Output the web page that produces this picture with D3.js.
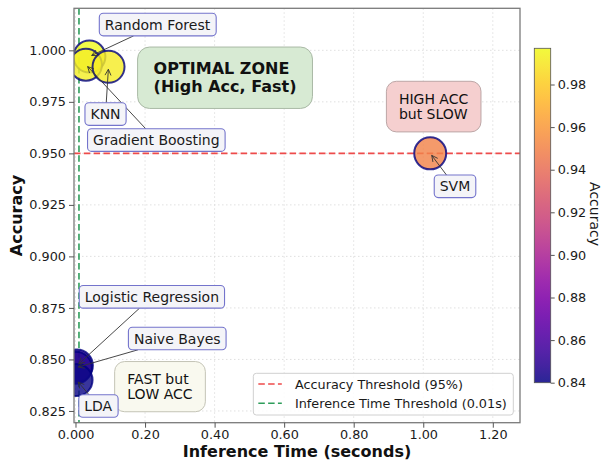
<!DOCTYPE html>
<html>
<head>
<meta charset="utf-8">
<script src="https://cdn.jsdelivr.net/npm/d3@7"></script>
<style>
  body { margin: 0; background: #fff; }
  svg { display: block; }
  text { font-family: "DejaVu Sans", "Liberation Sans", sans-serif; }
</style>
</head>
<body>
<svg id="chart" width="603" height="461"></svg>
<script>
// ---- data ----
const models = ["Logistic Regression", "Naive Bayes", "LDA", "Random Forest", "Gradient Boosting", "KNN", "SVM"];
const inferenceTime = [0.004, 0.001, 0.003, 0.040, 0.030, 0.095, 1.020];
const accuracy = [0.847, 0.846, 0.840, 0.997, 0.993, 0.992, 0.950];

const xTickValues = [0, 0.2, 0.4, 0.6, 0.8, 1.0, 1.2];
const xTickLabels = ["0.000", "0.20", "0.40", "0.60", "0.80", "1.00", "1.20"];
const yTickValues = [0.825, 0.85, 0.875, 0.9, 0.925, 0.95, 0.975, 1.0];
const yTickLabels = ["0.825", "0.850", "0.875", "0.900", "0.925", "0.950", "0.975", "1.000"];
const colorbarTicks = [0.84, 0.86, 0.88, 0.90, 0.92, 0.94, 0.96, 0.98];
const colorbarTickLabels = ["0.84", "0.86", "0.88", "0.90", "0.92", "0.94", "0.96", "0.98"];

const accuracyThreshold = 0.95;
const timeThreshold = 0.01;
const legendLabels = ["Accuracy Threshold (95%)", "Inference Time Threshold (0.01s)"];
const zoneTexts = [["OPTIMAL ZONE", "(High Acc, Fast)"], ["HIGH ACC", "but SLOW"], ["FAST but", "LOW ACC"]];
const zoneTime = [0.430, 1.030, 0.243];
const zoneAcc = [0.9867, 0.9727, 0.8368];

// ---- layout ----
const plot = { left: 74, right: 520, top: 8.3, bottom: 422.7 };
const cbar = { x: 534.3, y: 48.3, w: 16.4, h: 334.4 };
// label box centre offsets (px) from each point
const labelOffsets = {
  "Logistic Regression": [75, -68.6],
  "Naive Bayes": [101.4, -29],
  "LDA": [21.7, 26.1],
  "Random Forest": [68.1, -31.8],
  "Gradient Boosting": [70.4, 75.5],
  "KNN": [-3, 47.4],
  "SVM": [24.8, 33.1]
};
const zoneStyles = [
  { fill: "#d7ead3", stroke: "#a9b9a5", size: 16, weight: "bold", px: 16, py: 12, r: 12, lh: 18.4 },
  { fill: "#f5cfcf", stroke: "#bca6a6", size: 14, weight: "normal", px: 12.5, py: 9.5, r: 10, lh: 15.6 },
  { fill: "#f9f9ef", stroke: "#c4c4b6", size: 14, weight: "normal", px: 12.5, py: 9.5, r: 10, lh: 15.2 }
];
const dash = "6.5,3.3";

const svg = d3.select("#chart");

const x = d3.scaleLinear().domain([-0.0043, 1.2782]).range([plot.left, plot.right]);
const y = d3.scaleLinear().domain([0.8193, 1.0204]).range([plot.bottom, plot.top]);
const accExtent = d3.extent(accuracy);
const color = d3.scaleSequential(d3.interpolatePlasma).domain(accExtent);

svg.append("defs").append("clipPath").attr("id", "plot-clip")
  .append("rect")
  .attr("x", plot.left).attr("y", plot.top)
  .attr("width", plot.right - plot.left).attr("height", plot.bottom - plot.top);

// ---- grid ----
const grid = svg.append("g").attr("stroke", "#d8d8d8").attr("stroke-width", 0.8)
  .attr("stroke-dasharray", "1.5,2.5");
grid.selectAll(".gx").data(xTickValues).join("line")
  .attr("x1", d => x(d)).attr("x2", d => x(d))
  .attr("y1", plot.top).attr("y2", plot.bottom);
grid.selectAll(".gy").data(yTickValues).join("line")
  .attr("x1", plot.left).attr("x2", plot.right)
  .attr("y1", d => y(d)).attr("y2", d => y(d));

// ---- threshold lines ----
const thr = svg.append("g").attr("clip-path", "url(#plot-clip)");
thr.append("line")
  .attr("x1", plot.left).attr("x2", plot.right)
  .attr("y1", y(accuracyThreshold)).attr("y2", y(accuracyThreshold))
  .attr("stroke", "#ee4b4b").attr("stroke-width", 1.6).attr("stroke-dasharray", dash);
thr.append("line")
  .attr("x1", x(timeThreshold)).attr("x2", x(timeThreshold))
  .attr("y1", plot.top).attr("y2", plot.bottom)
  .attr("stroke", "#2e9d5b").attr("stroke-width", 1.6).attr("stroke-dasharray", dash);

// ---- points ----
const points = models.map((m, i) => ({ name: m, t: inferenceTime[i], acc: accuracy[i] }));
svg.append("g").attr("clip-path", "url(#plot-clip)")
  .selectAll("circle").data(points).join("circle")
  .attr("cx", d => x(d.t)).attr("cy", d => y(d.acc)).attr("r", 16)
  .attr("fill", d => color(d.acc)).attr("fill-opacity", 0.82)
  .attr("stroke", "#000080").attr("stroke-opacity", 0.8).attr("stroke-width", 2);

// ---- spines ----
svg.append("rect")
  .attr("x", plot.left).attr("y", plot.top)
  .attr("width", plot.right - plot.left).attr("height", plot.bottom - plot.top)
  .attr("fill", "none").attr("stroke", "#7a7a7a").attr("stroke-width", 1.3);

// ---- axes ----
const xAxis = svg.append("g").attr("transform", `translate(0,${plot.bottom})`)
  .call(d3.axisBottom(x).tickValues(xTickValues).tickFormat((d, i) => xTickLabels[i]).tickSize(5).tickSizeOuter(0));
const yAxis = svg.append("g").attr("transform", `translate(${plot.left},0)`)
  .call(d3.axisLeft(y).tickValues(yTickValues).tickFormat((d, i) => yTickLabels[i]).tickSize(5).tickSizeOuter(0));
[xAxis, yAxis].forEach(g => {
  g.select(".domain").remove();
  g.selectAll(".tick line").attr("stroke", "#555").attr("stroke-width", 1);
  g.selectAll(".tick text").attr("fill", "#1a1a1a").style("font-size", "12.8px")
    .style("font-family", '"DejaVu Sans", sans-serif');
});
xAxis.selectAll(".tick text").attr("y", 7.5);

svg.append("text").attr("x", (plot.left + plot.right) / 2).attr("y", 457)
  .attr("text-anchor", "middle").style("font-size", "16px").style("font-weight", "bold")
  .attr("fill", "#111").text("Inference Time (seconds)");
svg.append("text").attr("transform", `translate(22,${(plot.top + plot.bottom) / 2}) rotate(-90)`)
  .attr("text-anchor", "middle").style("font-size", "16px").style("font-weight", "bold")
  .attr("fill", "#111").text("Accuracy");

// ---- zone annotations ----
zoneTexts.forEach((lines, i) => {
  const st = zoneStyles[i];
  const g = svg.append("g");
  const rect = g.append("rect");
  const txt = g.append("text").style("font-size", st.size + "px").style("font-weight", st.weight)
    .attr("fill", "#111");
  lines.forEach((l, k) => txt.append("tspan").attr("x", 0).attr("y", k * st.lh).text(l));
  const bb = txt.node().getBBox();
  const cx = x(zoneTime[i]), cy = y(zoneAcc[i]);
  const dx = cx - (bb.x + bb.width / 2), dy = cy - (bb.y + bb.height / 2);
  txt.attr("transform", `translate(${dx},${dy})`);
  rect.attr("x", bb.x + dx - st.px).attr("y", bb.y + dy - st.py)
    .attr("width", bb.width + 2 * st.px).attr("height", bb.height + 2 * st.py)
    .attr("rx", st.r).attr("ry", st.r)
    .attr("fill", st.fill).attr("stroke", st.stroke).attr("stroke-width", 1);
});

// ---- model labels with arrows ----
const annot = svg.append("g");
points.forEach(p => {
  const px = x(p.t), py = y(p.acc);
  const off = labelOffsets[p.name];
  const bx = px + off[0], by = py + off[1];
  const fs = 14;
  const g = annot.append("g");
  const rect = g.append("rect");
  const txt = g.append("text").attr("x", bx).attr("y", by + 0.346 * fs)
    .attr("text-anchor", "middle").style("font-size", fs + "px").attr("fill", "#1a1a1a").text(p.name);
  const bb = txt.node().getBBox();
  const padX = 5.5, padY = 3.3;
  const rx0 = bb.x - padX, ry0 = bb.y - padY, rw = bb.width + 2 * padX, rh = bb.height + 2 * padY;
  rect.attr("x", rx0).attr("y", ry0).attr("width", rw).attr("height", rh)
    .attr("rx", 4).attr("ry", 4)
    .attr("fill", "#f4f4f8").attr("stroke", "#7474cc").attr("stroke-width", 1.1);

  // arrow from box edge to the point
  const cxb = rx0 + rw / 2, cyb = ry0 + rh / 2;
  const vx = px - cxb, vy = py - cyb;
  const tEdge = Math.min(Math.abs((rw / 2) / (vx || 1e-9)), Math.abs((rh / 2) / (vy || 1e-9)));
  const sx = cxb + vx * tEdge, sy = cyb + vy * tEdge;
  const len = Math.hypot(px - sx, py - sy);
  const ux = (px - sx) / len, uy = (py - sy) / len;
  const ex = px - ux * 2.5, ey = py - uy * 2.5;
  const hl = 6, hw = 3;
  const path = d3.path();
  path.moveTo(sx, sy); path.lineTo(ex, ey);
  path.moveTo(ex - ux * hl - uy * hw, ey - uy * hl + ux * hw);
  path.lineTo(ex, ey);
  path.lineTo(ex - ux * hl + uy * hw, ey - uy * hl - ux * hw);
  annot.insert("path", ":first-child").attr("d", path.toString())
    .attr("fill", "none").attr("stroke", "#333").attr("stroke-width", 0.9);
});

// ---- legend ----
const legend = svg.append("g");
const legRect = legend.append("rect");
const legColors = ["#ee4b4b", "#2e9d5b"];
const rowY = [384, 403.3];
const legTexts = legendLabels.map((l, i) => legend.append("text")
  .attr("y", rowY[i] + 4.5).style("font-size", "12.8px").attr("fill", "#1a1a1a").text(l));
const legW = d3.max(legTexts, t => t.node().getComputedTextLength());
const legRight = plot.right - 6.7, legBottom = plot.bottom - 7.7;
const legWidth = 41.6 + legW + 6.5, legHeight = 41.7;
const legLeft = legRight - legWidth, legTop = legBottom - legHeight;
legRect.attr("x", legLeft).attr("y", legTop).attr("width", legWidth).attr("height", legHeight)
  .attr("rx", 3).attr("fill", "#fff").attr("fill-opacity", 0.85)
  .attr("stroke", "#d0d0d0").attr("stroke-width", 1);
legTexts.forEach(t => t.attr("x", legLeft + 41.6));
legendLabels.forEach((l, i) => legend.append("line")
  .attr("x1", legLeft + 5).attr("x2", legLeft + 28.5)
  .attr("y1", rowY[i]).attr("y2", rowY[i])
  .attr("stroke", legColors[i]).attr("stroke-width", 1.6).attr("stroke-dasharray", dash));

// ---- colorbar ----
const cScale = d3.scaleLinear().domain(accExtent).range([cbar.y + cbar.h, cbar.y]);
const grad = svg.select("defs").append("linearGradient").attr("id", "cbar-grad")
  .attr("x1", 0).attr("y1", 1).attr("x2", 0).attr("y2", 0);
d3.range(0, 1.0001, 0.05).forEach(t => grad.append("stop")
  .attr("offset", t).attr("stop-color", d3.interpolatePlasma(t)));
svg.append("rect").attr("x", cbar.x).attr("y", cbar.y).attr("width", cbar.w).attr("height", cbar.h)
  .attr("fill", "url(#cbar-grad)").attr("fill-opacity", 0.88);
svg.append("rect").attr("x", cbar.x).attr("y", cbar.y).attr("width", cbar.w).attr("height", cbar.h)
  .attr("fill", "none").attr("stroke", "#555").attr("stroke-width", 0.8);
const cAxis = svg.append("g").attr("transform", `translate(${cbar.x + cbar.w},0)`)
  .call(d3.axisRight(cScale).tickValues(colorbarTicks).tickFormat((d, i) => colorbarTickLabels[i]).tickSize(4).tickSizeOuter(0));
cAxis.select(".domain").remove();
cAxis.selectAll(".tick line").attr("stroke", "#555");
cAxis.selectAll(".tick text").attr("fill", "#1a1a1a").style("font-size", "12.8px")
  .style("font-family", '"DejaVu Sans", sans-serif');
svg.append("text").attr("transform", `translate(590,214) rotate(90)`)
  .attr("text-anchor", "middle").style("font-size", "14px").attr("fill", "#1a1a1a").text("Accuracy");
</script>
</body>
</html>
